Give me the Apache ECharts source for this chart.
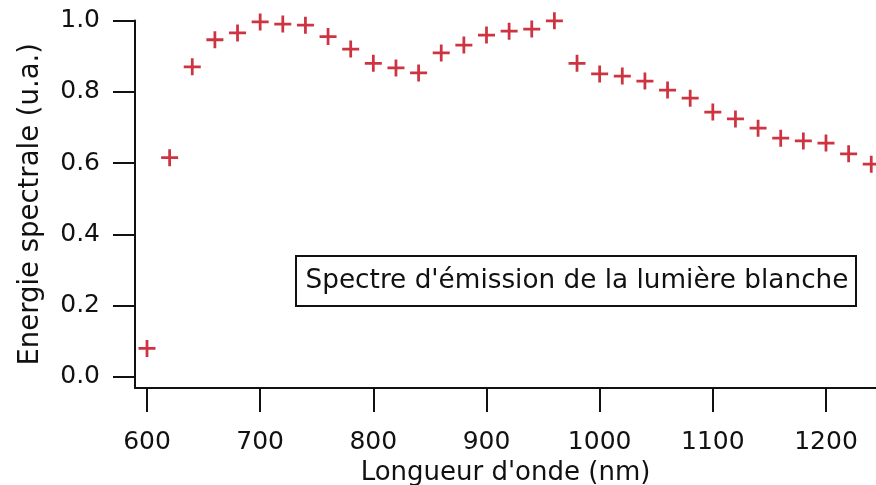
<!DOCTYPE html>
<html>
<head>
<meta charset="utf-8">
<script src="https://cdn.jsdelivr.net/npm/echarts@6/dist/echarts.min.js"></script>
<style>
  html, body { margin: 0; padding: 0; background: #ffffff; }
  #chart { width: 876px; height: 485px; }
</style>
</head>
<body>
<div id="chart"></div>
<script>
// Wavelengths (nm) and relative spectral energy of white light
const wavelengths = [600, 620, 640, 660, 680, 700, 720, 740, 760, 780, 800,
  820, 840, 860, 880, 900, 920, 940, 960, 980, 1000, 1020, 1040, 1060, 1080,
  1100, 1120, 1140, 1160, 1180, 1200, 1220, 1240];
const energy = [0.08, 0.615, 0.87, 0.946, 0.965, 0.996, 0.99, 0.987, 0.955,
  0.92, 0.88, 0.867, 0.853, 0.909, 0.931, 0.959, 0.97, 0.976, 0.999, 0.88,
  0.85, 0.844, 0.83, 0.805, 0.782, 0.743, 0.724, 0.698, 0.67, 0.662, 0.656,
  0.626, 0.597];
const xTicks = [600, 700, 800, 900, 1000, 1100, 1200];
const yTicks = [0, 0.2, 0.4, 0.6, 0.8, 1.0];

const xTitle = "Longueur d'onde (nm)";
const yTitle = 'Energie spectrale (u.a.)';
const noteText = "Spectre d'émission de la lumière blanche";

const FONT = 'DejaVu Sans';
const INK = '#111111';

const chart = echarts.init(document.getElementById('chart'), null, { renderer: 'canvas' });

const axisCommon = {
  type: 'value',
  splitLine: { show: false },
  axisLine: { show: true, onZero: false, lineStyle: { color: INK, width: 2 } }
};

chart.setOption({
  animation: false,
  backgroundColor: '#ffffff',
  grid: { left: 135, right: 0, top: 20.5, bottom: 97, containLabel: false,
    outerBoundsMode: 'none' },
  xAxis: Object.assign({}, axisCommon, {
    min: 589.4,
    max: 1244.2,
    name: xTitle,
    nameLocation: 'middle',
    nameGap: 64,
    nameTextStyle: { fontFamily: FONT, fontSize: 26, color: INK },
    axisTick: { show: true, inside: false, length: 24, customValues: xTicks,
      lineStyle: { color: INK, width: 2 } },
    axisLabel: { customValues: xTicks, margin: 42, fontFamily: FONT, fontSize: 25, color: INK,
      formatter: v => String(v) }
  }),
  yAxis: Object.assign({}, axisCommon, {
    min: -0.031,
    max: 1.0,
    name: yTitle,
    nameLocation: 'middle',
    nameGap: 90,
    nameTextStyle: { fontFamily: FONT, fontSize: 27.5, color: INK },
    axisTick: { show: true, inside: false, length: 22, customValues: yTicks,
      lineStyle: { color: INK, width: 2 } },
    axisLabel: { customValues: yTicks, margin: 35, fontFamily: FONT, fontSize: 25, color: INK,
      formatter: v => v.toFixed(1) }
  }),
  graphic: [{
    type: 'group',
    left: 295,
    top: 255,
    children: [{
      type: 'rect',
      shape: { x: 0, y: 0, width: 560, height: 50 },
      style: { fill: '#ffffff', stroke: INK, lineWidth: 2 }
    }, {
      type: 'text',
      x: 281,
      y: 25,
      style: { text: noteText, fontFamily: FONT, fontSize: 26.3, fill: INK,
        align: 'center', verticalAlign: 'middle' }
    }]
  }],
  series: [{
    type: 'scatter',
    clip: false,
    data: wavelengths.map((w, i) => [w, energy[i]]),
    symbol: 'path://M6.7,0H9.3V6.7H16V9.3H9.3V16H6.7V9.3H0V6.7H6.7Z',
    symbolSize: 17,
    itemStyle: { color: '#c00012' }
  }]
});
</script>
</body>
</html>
